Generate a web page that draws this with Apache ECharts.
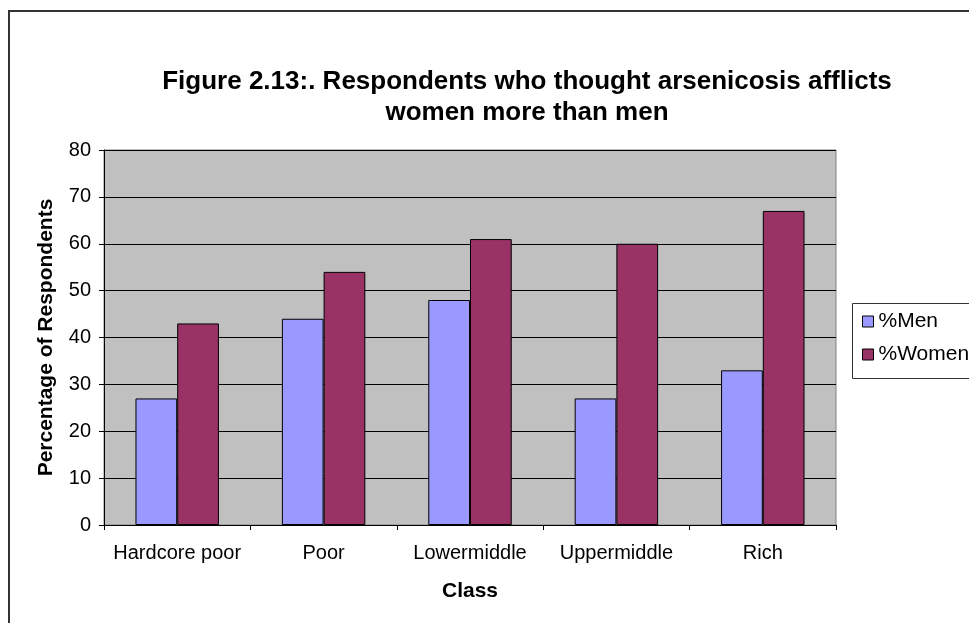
<!DOCTYPE html>
<html>
<head>
<meta charset="utf-8">
<title>Figure 2.13</title>
<script src="https://cdn.jsdelivr.net/npm/echarts@6/dist/echarts.min.js"></script>
<style>
  html, body { margin: 0; padding: 0; background: #fff; }
  #chart { width: 969px; height: 623px; }
</style>
</head>
<body>
<div id="chart"></div>
<script>
// data
var classes = ['Hardcore poor', 'Poor', 'Lowermiddle', 'Uppermiddle', 'Rich']
var menPct = [27, 44, 48, 27, 33]
var womenPct = [43, 54, 61, 60, 67]

var font = '"Liberation Sans", Arial, sans-serif'

var chart = echarts.init(document.getElementById('chart'))
var option = {
  animation: false,
  backgroundColor: '#fff',
  textStyle: { fontFamily: font },
  title: {
    text: 'Figure 2.13:. Respondents who thought arsenicosis afflicts\nwomen more than men',
    left: 522,
    top: 61,
    textAlign: 'center',
    textStyle: {
      fontFamily: font,
      fontSize: 26,
      fontWeight: 'bold',
      color: '#000',
      lineHeight: 31
    }
  },
  graphic: [
    {
      // outer chart frame
      type: 'rect',
      shape: { x: 9, y: 11, width: 1000, height: 700 },
      style: { fill: 'none', stroke: '#333', lineWidth: 2 },
      z: 0
    },
    {
      // legend frame
      type: 'rect',
      shape: { x: 852.5, y: 303.5, width: 140, height: 75 },
      style: { fill: '#fff', stroke: '#333', lineWidth: 1 },
      z: 1
    }
  ],
  legend: {
    orient: 'vertical',
    left: 862,
    top: 311,
    padding: 0,
    itemGap: 12,
    itemWidth: 11,
    itemHeight: 11,
    icon: 'rect',
    z: 5,
    textStyle: { fontFamily: font, fontSize: 21, color: '#000' },
    data: [
      { name: '%Men', itemStyle: { borderColor: '#000', borderWidth: 1 } },
      { name: '%Women', itemStyle: { borderColor: '#000', borderWidth: 1 } }
    ]
  },
  grid: {
    left: 104,
    right: 133,
    top: 150,
    bottom: 98,
    show: true,
    backgroundColor: '#c0c0c0',
    borderColor: '#808080',
    borderWidth: 1
  },
  xAxis: {
    type: 'category',
    data: classes,
    name: 'Class',
    nameLocation: 'middle',
    nameGap: 56,
    nameTextStyle: { fontFamily: font, fontSize: 21, fontWeight: 'bold', color: '#000' },
    axisLine: { lineStyle: { color: '#000', width: 1 } },
    axisTick: { show: true, interval: 0, length: 5, lineStyle: { color: '#000' } },
    axisLabel: { interval: 0, hideOverlap: false, fontFamily: font, fontSize: 20, color: '#000', margin: 18 },
    splitLine: { show: false }
  },
  yAxis: {
    type: 'value',
    min: 0,
    max: 80,
    interval: 10,
    name: 'Percentage of Respondents',
    nameLocation: 'middle',
    nameGap: 47,
    nameTextStyle: { fontFamily: font, fontSize: 21, fontWeight: 'bold', color: '#000' },
    axisLine: { show: true, lineStyle: { color: '#000', width: 1 } },
    axisTick: { show: true, length: 5, lineStyle: { color: '#000' } },
    axisLabel: { fontFamily: font, fontSize: 20, color: '#000', margin: 13 },
    splitLine: { show: true, lineStyle: { color: '#000', width: 1 } }
  },
  series: [
    {
      name: '%Men',
      type: 'bar',
      data: menPct,
      barGap: '0%',
      barCategoryGap: '43%',
      itemStyle: { color: '#9999ff', borderColor: '#000', borderWidth: 1 }
    },
    {
      name: '%Women',
      type: 'bar',
      data: womenPct,
      barGap: '0%',
      barCategoryGap: '43%',
      itemStyle: { color: '#993366', borderColor: '#000', borderWidth: 1 }
    }
  ]
}
chart.setOption(option)
</script>
</body>
</html>
